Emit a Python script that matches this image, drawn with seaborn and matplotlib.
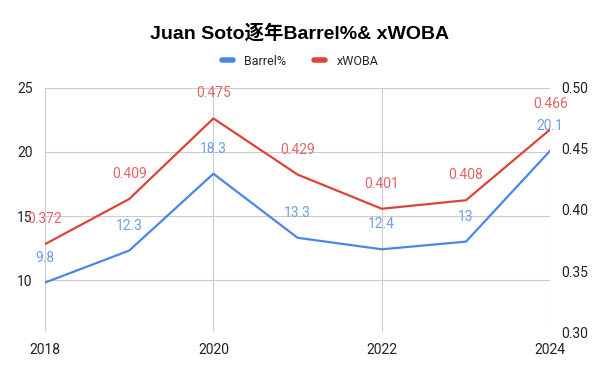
import pandas as pd
import matplotlib.pyplot as plt
import seaborn as sns

### data
years = [2018, 2019, 2020, 2021, 2022, 2023, 2024]
barrel = [9.8, 12.3, 18.3, 13.3, 12.4, 13, 20.1]
xwoba = [0.372, 0.409, 0.475, 0.429, 0.401, 0.408, 0.466]
barrel_labels = ['9.8', '12.3', '18.3', '13.3', '12.4', '13', '20.1']
xwoba_labels = ['0.372', '0.409', '0.475', '0.429', '0.401', '0.408', '0.466']

df = pd.DataFrame({'year': years, 'Barrel%': barrel, 'xWOBA': xwoba})

sns.set_style('white')
plt.rcParams['font.family'] = ['Roboto', 'Noto Sans CJK SC', 'DejaVu Sans']

blue = '#4a86e8'
red = '#db4437'
grid_c = '#cccccc'

fig = plt.figure(figsize=(6, 3.71), dpi=100)
ax = fig.add_axes([0.075, 0.105, 0.842, 0.658])
ax2 = ax.twinx()

sns.lineplot(data=df, x='year', y='Barrel%', ax=ax, color=blue, lw=1.6)
sns.lineplot(data=df, x='year', y='xWOBA', ax=ax2, color=red, lw=1.6)

### axes ranges and ticks
ax.set_xlim(2018, 2024)
ax.set_ylim(5.94, 25)
ax2.set_ylim(0.30, 0.50)
ax.set_xticks([2018, 2020, 2022, 2024])
ax.set_yticks([10, 15, 20, 25])
ax2.set_yticks([0.30, 0.35, 0.40, 0.45, 0.50])
ax2.set_yticklabels(['0.30', '0.35', '0.40', '0.45', '0.50'])
ax.grid(True, color=grid_c, lw=0.8)
ax2.grid(False)
for a in (ax, ax2):
    a.set_xlabel('')
    a.set_ylabel('')
    for s in a.spines.values():
        s.set_visible(False)
ax.tick_params(axis='x', length=4, color=grid_c, labelsize=10, labelcolor='#222222', pad=4)
ax.tick_params(axis='y', length=0, labelsize=10, labelcolor='#222222', pad=9)
ax2.tick_params(axis='y', length=0, labelsize=10, labelcolor='#222222', pad=8)

### data labels
for x, y, t in zip(years, barrel, barrel_labels):
    ax.annotate(t, (x, y), xytext=(0, 13), textcoords='offset points',
                ha='center', va='bottom', fontsize=10, color='#6d9eeb')
for x, y, t in zip(years, xwoba, xwoba_labels):
    ax2.annotate(t, (x, y), xytext=(0, 13), textcoords='offset points',
                 ha='center', va='bottom', fontsize=10, color='#e06666')

### title and legend
fig.text(0.5, 0.91, 'Juan Soto逐年Barrel%& xWOBA', ha='center', va='center',
         fontsize=14, fontweight='bold', color='black',
         family=['Liberation Sans', 'Noto Sans CJK SC'])
h1 = plt.Line2D([], [], color=blue, lw=4)
h2 = plt.Line2D([], [], color=red, lw=4)
fig.legend([h1, h2], ['Barrel%', 'xWOBA'], loc='center', bbox_to_anchor=(0.5, 0.835),
           ncol=2, frameon=False, fontsize=9, handlelength=0.9, columnspacing=2.2,
           handletextpad=0.9)

fig.savefig('out.png', dpi=100)
